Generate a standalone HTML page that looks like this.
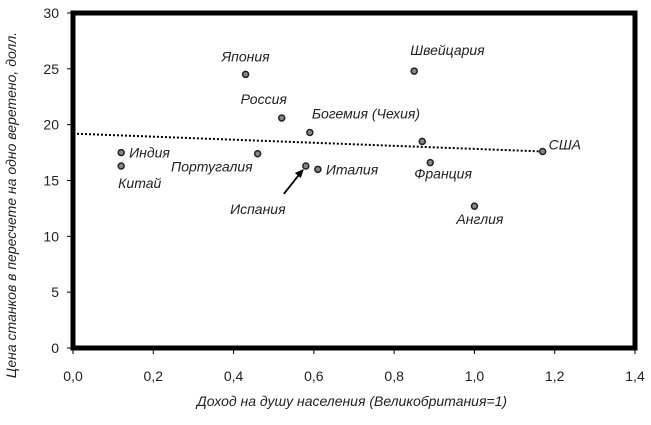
<!DOCTYPE html>
<html><head><meta charset="utf-8"><style>
html,body{margin:0;padding:0;background:#fff;}
svg text{font-family:"Liberation Sans","DejaVu Sans",sans-serif;}
</style></head><body>
<svg id="chart" width="651" height="420" xmlns="http://www.w3.org/2000/svg">
<g id="ticks"></g>
<g id="trend"></g>
<g id="marks"></g>
<rect x="73" y="13" width="562" height="335" fill="none" stroke="#000" stroke-width="5"/>
<text x="352" y="406" font-size="14" font-style="italic" text-anchor="middle" fill="#222">Доход на душу населения (Великобритания=1)</text>
<text transform="translate(16,205) rotate(-90)" font-size="14" font-style="italic" text-anchor="middle" fill="#222">Цена станков в пересчете на одно веретено, долл.</text>
</svg>
<script>
const countries=["Япония","Швейцария","Россия","Богемия (Чехия)","Франция-2","США","Индия","Португалия","Испания","Италия","Китай","Франция","Англия"];
const incomes=[0.43,0.85,0.52,0.59,0.87,1.17,0.12,0.46,0.58,0.61,0.12,0.89,1.0];
const prices=[24.5,24.8,20.6,19.3,18.5,17.6,17.5,17.4,16.3,16.0,16.3,16.6,12.7];
const xTicks=["0,0","0,2","0,4","0,6","0,8","1,0","1,2","1,4"];
const xTickVals=[0,0.2,0.4,0.6,0.8,1.0,1.2,1.4];
const yTickVals=[0,5,10,15,20,25,30];
const trendStart=[0,19.2];
const trendEnd=[1.17,17.6];
const labelOffsets={"Япония":[0,-13,"middle"],"Швейцария":[-4,-16,"start"],"Россия":[-18,-14,"middle"],"Богемия (Чехия)":[2,-14,"start"],"Франция-2":null,"США":[6,-2,"start"],"Индия":[8,5,"start"],"Португалия":[-5,18,"end"],"Испания":[-48,48,"middle"],"Италия":[8,5,"start"],"Китай":[-3,22,"start"],"Франция":[-16,16,"start"],"Англия":[-18,18,"start"]};
const NS="http://www.w3.org/2000/svg";
const X=v=>73+v*562/1.4, Y=v=>348-v*335/30;
function el(t,a,p){const e=document.createElementNS(NS,t);for(const k in a)e.setAttribute(k,a[k]);document.getElementById(p).appendChild(e);return e;}
xTickVals.forEach((v,i)=>{
 const t=el("line",{x1:X(v),x2:X(v),y1:348,y2:354,stroke:"#000"},"ticks");
 
 
 const l=el("text",{x:X(v),y:381,"font-size":14,"text-anchor":"middle",fill:"#222"},"ticks");l.textContent=xTicks[i];
 
 
});
yTickVals.forEach(v=>{
 const t=el("line",{x1:67,x2:73,y1:Y(v),y2:Y(v),stroke:"#000"},"ticks");
 
 
 const l=el("text",{x:59,y:Y(v)+5,"font-size":14,"text-anchor":"end",fill:"#222"},"ticks");l.textContent=String(v);
 
 
});
const tl=el("line",{x1:X(trendStart[0]),y1:Y(trendStart[1]),x2:X(trendEnd[0]),y2:Y(trendEnd[1]),stroke:"#000","stroke-width":2,"stroke-dasharray":"2,2"},"trend");


countries.forEach((c,i)=>{
 const cx=X(incomes[i]),cy=Y(prices[i]);
 const p=el("circle",{cx:cx,cy:cy,r:3,fill:"#888",stroke:"#222","stroke-width":1.5},"marks");
 
 
 const o=labelOffsets[c];
 if(o){const l=el("text",{x:cx+o[0],y:cy+o[1],"font-size":14,"font-style":"italic","text-anchor":o[2],fill:"#222"},"marks");l.textContent=c;
 
 }
 if(c==="Испания"){
  const a=el("line",{x1:cx-22,y1:cy+28,x2:cx-3,y2:cy+4,stroke:"#000","stroke-width":1.8},"marks");
  
  
  const h=el("polygon",{points:`${cx-2},${cy+3} ${cx-5},${cy+12} ${cx-11},${cy+7}`,fill:"#000"},"marks");
  
  
 }
});
</script>
</body></html>
